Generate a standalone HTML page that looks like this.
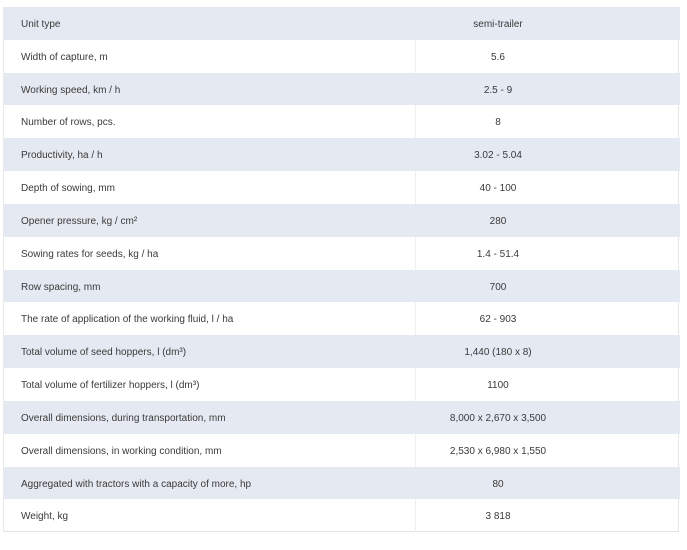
<!DOCTYPE html>
<html><head><meta charset="utf-8"><style>
html,body{margin:0;padding:0;background:#fff;}
body{width:687px;height:550px;position:relative;overflow:hidden;font-family:"Liberation Sans",Arial,sans-serif;font-size:10px;color:#3a3a3a;}
.tbl{position:absolute;left:3px;top:7px;width:676px;height:525px;border-left:1px solid #e8e8e8;border-right:1px solid #e6e6e6;border-bottom:1px solid #e3e3e3;box-sizing:border-box;}
.vl{position:absolute;left:411px;top:0;width:1px;height:525px;background:#efefef;}
.r{position:absolute;left:0;width:676px;height:32.83px;line-height:32.83px;}
.g{background:#e5e9f1;}
.k{position:absolute;left:17px;top:2px;white-space:nowrap;}
.v{position:absolute;left:394px;width:200px;text-align:center;top:2px;white-space:nowrap;}
</style></head><body>
<div class="tbl">
<div class="vl"></div>
<div class="r g" style="top:0px"><span class="k">Unit type</span><span class="v">semi-trailer</span></div>
<div class="r" style="top:32.83px"><span class="k">Width of capture, m</span><span class="v">5.6</span></div>
<div class="r g" style="top:65.66px"><span class="k">Working speed, km / h</span><span class="v">2.5 - 9</span></div>
<div class="r" style="top:98.49px"><span class="k">Number of rows, pcs.</span><span class="v">8</span></div>
<div class="r g" style="top:131.32px"><span class="k">Productivity, ha / h</span><span class="v">3.02 - 5.04</span></div>
<div class="r" style="top:164.15px"><span class="k">Depth of sowing, mm</span><span class="v">40 - 100</span></div>
<div class="r g" style="top:196.98px"><span class="k">Opener pressure, kg / cm²</span><span class="v">280</span></div>
<div class="r" style="top:229.81px"><span class="k">Sowing rates for seeds, kg / ha</span><span class="v">1.4 - 51.4</span></div>
<div class="r g" style="top:262.64px"><span class="k">Row spacing, mm</span><span class="v">700</span></div>
<div class="r" style="top:295.47px"><span class="k">The rate of application of the working fluid, l / ha</span><span class="v">62 - 903</span></div>
<div class="r g" style="top:328.3px"><span class="k">Total volume of seed hoppers, l (dm³)</span><span class="v">1,440 (180 x 8)</span></div>
<div class="r" style="top:361.13px"><span class="k">Total volume of fertilizer hoppers, l (dm³)</span><span class="v">1100</span></div>
<div class="r g" style="top:393.96px"><span class="k">Overall dimensions, during transportation, mm</span><span class="v">8,000 x 2,670 x 3,500</span></div>
<div class="r" style="top:426.79px"><span class="k">Overall dimensions, in working condition, mm</span><span class="v">2,530 x 6,980 x 1,550</span></div>
<div class="r g" style="top:459.62px"><span class="k">Aggregated with tractors with a capacity of more, hp</span><span class="v">80</span></div>
<div class="r" style="top:492.45px"><span class="k">Weight, kg</span><span class="v">3 818</span></div>
</div>
</body></html>
